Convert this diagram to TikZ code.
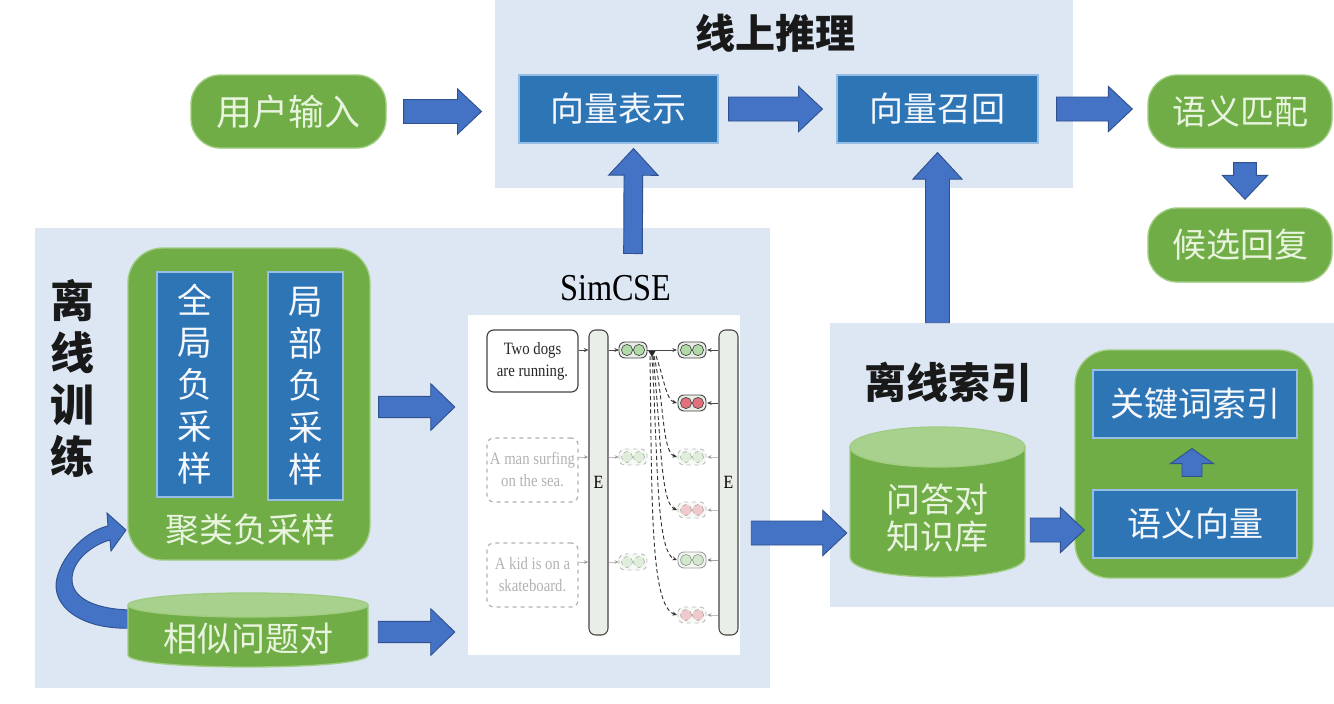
\documentclass[tikz,border=0pt]{standalone}
\usepackage{fontspec}
\setmainfont{Liberation Serif}
\newfontfamily\cjk{Noto Sans CJK SC}
\newfontfamily\condserif{Liberation Serif}[FakeStretch=0.85]
\usetikzlibrary{calc,arrows.meta}
\definecolor{panelbg}{RGB}{221,231,244}
\definecolor{gfill}{RGB}{112,173,71}
\definecolor{gline}{RGB}{160,205,130}
\definecolor{gtop}{RGB}{169,209,142}
\definecolor{gtext}{RGB}{232,244,222}
\definecolor{bfill}{RGB}{46,117,182}
\definecolor{bline}{RGB}{150,190,228}
\definecolor{btext}{RGB}{245,248,252}
\definecolor{afill}{RGB}{68,114,196}
\definecolor{aline}{RGB}{47,82,143}
\definecolor{pillbg}{RGB}{232,238,230}
\definecolor{ebg}{RGB}{233,238,231}
\definecolor{edge}{RGB}{70,70,70}
\definecolor{cgreen}{RGB}{178,218,168}
\definecolor{cred}{RGB}{226,112,124}
% fat block arrow: half shaft, half head, head length, start, end
\newcommand\fatarr[5]{%
  \coordinate (FAs) at (#4);
  \coordinate (FAe) at (#5);
  \coordinate (FAh) at ($(FAe)!#3!(FAs)$);
  \draw[blockarrow] ($(FAs)!#1!90:(FAe)$) -- ($(FAh)!#1!-90:(FAs)$) -- ($(FAh)!#2!-90:(FAs)$) -- (FAe)
     -- ($(FAh)!#2!90:(FAs)$) -- ($(FAh)!#1!90:(FAs)$) -- ($(FAs)!#1!-90:(FAe)$) -- cycle;}
% cylinder: cx, left, right, top y, bottom y, ry
\newcommand\cylshape[6]{%
  \draw[cylbody] (#2,#4) -- (#2,#5) .. controls (#2,#5+1.333*#6) and (#3,#5+1.333*#6) .. (#3,#5) -- (#3,#4) -- cycle;
  \draw[cyltop] (#1,#4) ellipse [x radius={(#3-#2)*0.375pt}, y radius={#6*0.75pt}];}
% embedding pill: x, y, circle colour, extra style
\newcommand\pill[4]{%
  \begin{scope}[#4]
    \draw[fill=pillbg, draw=edge, line width=0.7pt, rounded corners=4.5pt] (#1-14,#2-8) rectangle (#1+14,#2+8);
    \draw[fill=#3, draw=edge, line width=0.5pt] (#1-6,#2) circle[radius=4.2pt];
    \draw[fill=#3, draw=edge, line width=0.5pt] (#1+6,#2) circle[radius=4.2pt];
  \end{scope}}
\begin{document}
\begin{tikzpicture}[x=0.75pt,y=-0.75pt,
  sz/.style 2 args={minimum width=#1*0.75pt, minimum height=#2*0.75pt, inner sep=0pt},
  panel/.style={fill=panelbg, draw=none},
  gbox/.style={fill=gfill, draw=gline, line width=1pt, rounded corners=22pt, text=gtext, font=\cjk\fontsize{25.5}{30}\selectfont},
  bbox/.style={fill=bfill, draw=bline, line width=0.8pt, text=btext, font=\cjk\fontsize{25.5}{30}\selectfont},
  blockarrow/.style={fill=afill, draw=aline, line width=0.7pt, line join=miter},
  ttl/.style={font=\cjk\bfseries\fontsize{30}{36}\selectfont, text=black!90},
  cylbody/.style={fill=gfill, draw=gline, line width=1pt},
  cyltop/.style={fill=gtop, draw=gline, line width=1pt},
  sent/.style={font=\condserif\fontsize{13}{16.5}\selectfont, align=center, text=black!85},
  ebar/.style={fill=ebg, draw=edge, line width=0.8pt, rounded corners=5pt},
  tinyarr/.style={-{Stealth[length=3.5pt,width=3pt]}, line width=0.6pt, draw=edge},
  faded/.style={opacity=0.35, dashed},
  dcurve/.style={dashed, dash pattern=on 3pt off 2pt, line width=0.7pt, draw=black!80, -{Stealth[length=3.5pt,width=3pt]}},
]
\useasboundingbox (0,0) rectangle (1334,703);
\fill[white] (0,0) rectangle (1334,703);
% panels
\fill[panel] (495,0) rectangle (1073,188);
\fill[panel] (35,228) rectangle (770,688);
\fill[panel] (830,323) rectangle (1334,607);
% titles
\node[ttl] (t1) at (775,33) {线上推理};
\node[ttl, font=\cjk\bfseries\fontsize{33}{39}\selectfont, align=center] (t2) at (72,378) {离\\线\\训\\练};
\node[ttl, font=\cjk\bfseries\fontsize{31.5}{36}\selectfont] (t3) at (948,382) {离线索引};
% online row
\node[gbox, sz={195}{73}, font=\cjk\fontsize{27}{32}\selectfont] (u) at (288.5,111.5) {用户输入};
\node[bbox, sz={199}{68}] (v) at (618.5,109) {向量表示};
\node[bbox, sz={201}{68}] (r) at (937.5,109) {向量召回};
\node[gbox, sz={184}{73}] (m) at (1240,111.5) {语义匹配};
\node[gbox, sz={184}{74}] (c) at (1240,245) {候选回复};
% offline training
\node[gbox, sz={242}{312}, rounded corners=26pt] (g) at (249,404) {};
\node[bbox, sz={76}{225}, align=center, font=\cjk\fontsize{26}{31.5}\selectfont] (g1) at (195,384.5) {全\\局\\负\\采\\样};
\node[bbox, sz={75}{228}, align=center, font=\cjk\fontsize{26}{31.5}\selectfont] (g2) at (305.5,386) {局\\部\\负\\采\\样};
\node[text=gtext, font=\cjk\fontsize{25.5}{30}\selectfont] (gl) at (250,530) {聚类负采样};
% curved arrow from similar pairs to clustering
\draw[blockarrow] (135,628) .. controls (80,631) and (50,605) .. (57,578) .. controls (63,553) and (88,530) .. (108,526)
  -- (107,513) -- (126,530) -- (111,551) -- (110,540)
  .. controls (92,545) and (73,560) .. (72,578) .. controls (71,598) and (95,610) .. (135,610) -- cycle;
% cylinder 1
\node[sz={240}{74}] (cy1) at (248,630) {};
\cylshape{248}{128}{368}{605}{655}{12}
\node[text=gtext, font=\cjk\fontsize{25.5}{30}\selectfont] (cy1t) at (248,639) {相似问题对};
% SimCSE label and figure
\node[font=\condserif\fontsize{28.5}{32}\selectfont] (sim) at (616,288) {SimCSE};
\node[fill=white, sz={272}{340}] (sf) at (604,485) {};
\node[draw=edge, line width=0.9pt, rounded corners=5pt, sz={91}{62}, fill=white, sent] (s1) at (532.5,361) {Two dogs\\are running.};
\node[draw=black!30, dashed, line width=0.9pt, rounded corners=5pt, sz={91}{64}, sent, text=black!30] (s2) at (532.5,470) {A man surfing\\on the sea.};
\node[draw=black!30, dashed, line width=0.9pt, rounded corners=5pt, sz={91}{64}, sent, text=black!30] (s3) at (532.5,575) {A kid is on a\\skateboard.};
\node[ebar, sz={19}{305}, font=\condserif\fontsize{14}{15}\selectfont] (e1) at (598.5,482.5) {E};
\node[ebar, sz={19}{305}, font=\condserif\fontsize{14}{15}\selectfont] (e2) at (728.5,482.5) {E};
\draw[tinyarr] (s1.east |- 0,350) -- (e1.west |- 0,350);
\draw[tinyarr, opacity=0.35] (s2.east |- 0,457) -- (e1.west |- 0,457);
\draw[tinyarr, opacity=0.35] (s3.east |- 0,562) -- (e1.west |- 0,562);
\foreach \yy/\op in {350/1,457/0.35,562/0.35} \draw[tinyarr, opacity=\op] (e1.east |- 0,\yy) -- (619,\yy);
\pill{633}{350}{cgreen}{}
\pill{633}{457}{cgreen}{faded}
\pill{633}{562}{cgreen}{faded}
\pill{692}{350}{cgreen}{}
\pill{692}{403}{cred}{}
\pill{692}{457}{cgreen}{faded}
\pill{692}{510}{cred}{faded}
\pill{692}{560}{cgreen}{opacity=0.5}
\pill{692}{615}{cred}{faded}
\foreach \yy/\op in {350/1,403/1,457/0.35,510/0.35,560/0.5,615/0.35} \draw[tinyarr, opacity=\op] (e2.west |- 0,\yy) -- (707,\yy);
\draw[tinyarr] (647,350) -- (677,350);
\fill[black!85] (648.5,351) -- (655.5,351) -- (652,357) -- cycle;
\draw[dcurve] (656,356) .. controls (664,378) and (666,400) .. (677,403);
\draw[dcurve] (654,356) .. controls (664,400) and (662,452) .. (677,457);
\draw[dcurve] (653,356) .. controls (661,430) and (660,503) .. (677,510);
\draw[dcurve] (652,356) .. controls (658,460) and (656,552) .. (677,560);
\draw[dcurve] (650,356) .. controls (652,500) and (650,606) .. (677,615);
% offline index
\node[gbox, sz={238}{228}, rounded corners=26pt] (g3) at (1194,464) {};
\node[bbox, sz={204}{68}] (kw) at (1195,404) {关键词索引};
\node[bbox, sz={204}{68}] (kv) at (1195,524) {语义向量};
\node[sz={175}{150}] (kb) at (937.5,502) {};
\cylshape{937.5}{850}{1025}{447}{557}{20}
\node[text=gtext, align=center, font=\cjk\fontsize{25.5}{28}\selectfont] (kbt) at (937.5,518) {问答对\\知识库};
% block arrows
\fatarr{9pt}{17pt}{18pt}{$(u.east)+(17,0)$}{$(u.east -| v.west)+(-37,0)$}
\fatarr{9pt}{17pt}{18pt}{$(v.east)+(10,0)$}{$(r.west)+(-14,0)$}
\fatarr{9pt}{17pt}{18pt}{$(r.east)+(18,0)$}{$(r.east -| m.west)+(-15,0)$}
\fatarr{8.5pt}{17pt}{18pt}{$(m.south)+(5,14)$}{$(c.north)+(5,-8)$}
\fatarr{7pt}{18.5pt}{20pt}{$(sim.north)+(17,-17)$}{$(v.south)+(15,5)$}
\fatarr{9pt}{18.5pt}{20pt}{$(kb.north)+(0,-104)$}{$(r.south)+(0,9)$}
\fatarr{8pt}{17.5pt}{18pt}{$(g.east)+(8,3)$}{$(g.east -| sf.west)+(-13,3)$}
\fatarr{8pt}{17.5pt}{18pt}{$(cy1.east)+(10,2)$}{$(cy1.east -| sf.west)+(-13,2)$}
\fatarr{9pt}{17pt}{18pt}{$(sf.east)+(11,48)$}{$(kb.west)+(-3,31)$}
\fatarr{9pt}{17pt}{18pt}{$(kb.east)+(5,28)$}{$(g3.west)+(10,66)$}
\fatarr{7.5pt}{16pt}{11.25pt}{$(kv.north)+(-3,-13)$}{$(kw.south)+(-3,10)$}
\end{tikzpicture}
\end{document}
